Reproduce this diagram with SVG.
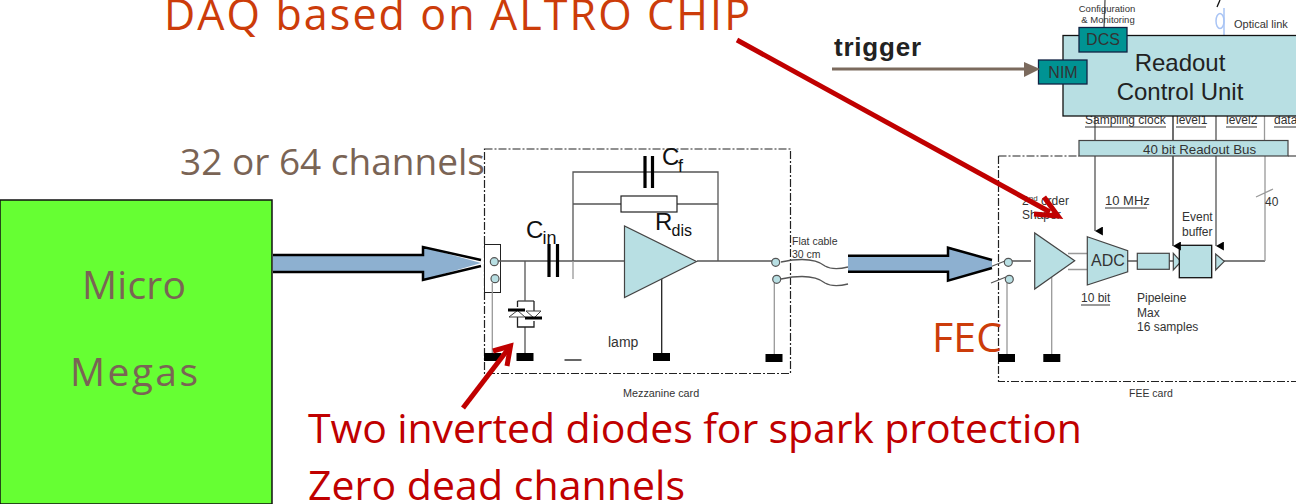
<svg xmlns="http://www.w3.org/2000/svg" width="1296" height="504" viewBox="0 0 1296 504">
<style>
text{font-family:"Liberation Sans",Arial,sans-serif;fill:#333}
.big{font-family:"Open Sans","Noto Sans",sans-serif}
.or{fill:#cc3c0a;font-size:43px}
.br{fill:#7a6455}
.rd{fill:#c00000;font-size:41px}
.s{font-size:12px}
.el{font-size:24px;fill:#111}
.sub{font-size:18px;fill:#111}
.w{fill:none;stroke:#555;stroke-width:1.3}
.k{fill:none;stroke:#222;stroke-width:1.3}
.g{fill:none;stroke:#999;stroke-width:1.3}
.gnd{fill:#000}
.t{fill:#b8dfe3;stroke:#444;stroke-width:1.2}
.t2{fill:#b8dfe3;stroke:#111;stroke-width:1.3}
.teal{fill:#009393;stroke:#124;stroke-width:1.3}
.c{fill:#b8dfe3;stroke:#555;stroke-width:1.2}
.d{fill:none;stroke:#222;stroke-width:1.2;stroke-dasharray:8 2 2 2}
.u{stroke:#333;stroke-width:1;fill:none}
.ar{fill:#8db0d0}
.ae{fill:none;stroke:#000;stroke-width:2.5}
.cap{fill:none;stroke:#000;stroke-width:3.2}
.red{stroke:#c00000;stroke-width:5;fill:none}
</style>
<defs>
<marker id="dn" markerWidth="9" markerHeight="8" refX="4" refY="7" orient="auto-start-reverse" markerUnits="userSpaceOnUse" viewBox="0 0 8 7"><path d="M0 0H8L4 7Z" fill="#000"/></marker>
</defs>
<g id="micromegas">
<rect x="0" y="200" width="272" height="304" fill="#66ff33" stroke="#111" stroke-width="1.5"/>
<text class="big br" x="82" y="299" font-size="39" textLength="104">Micro</text>
<text class="big br" x="70" y="386" font-size="39" textLength="128">Megas</text>
</g>
<g id="mezzanine">
<rect class="d" x="484.500" y="149" width="306" height="224.500"/>
<rect x="484.500" y="244.500" width="16" height="48" fill="#fff" stroke="#222" stroke-width="1"/>
<path class="w" d="M498 261H624M573 261V172H718V261M573 204H621M677 204H718M697 261H772M525 261V301M517.500 301H534M525 327V353"/>
<path class="g" d="M492.300 283V353M774.300 283V354M573 261V279"/>
<path class="k" d="M661.700 276V353M517.500 301V307M534 301V314M517.500 317V327H534V321"/>
<path d="M509 317L517.500 310.500L525 317ZM526 311L534 318L541 311Z" fill="#fff" stroke="#444"/>
<path d="M508 310H525M525 318H542" stroke="#000" stroke-width="3"/>
<path class="cap" d="M549 244V277M557.500 244V277M645 156V188M652.500 156V188"/>
<rect x="621" y="196" width="56" height="16" fill="#fff" stroke="#222" stroke-width="1.200"/>
<path class="t" d="M624.500 226V297.500L696.500 261.500Z"/>
<circle class="c" cx="494.300" cy="261.700" r="4"/><circle class="c" cx="495" cy="278.700" r="4"/>
<circle class="c" cx="775.700" cy="262.300" r="4"/><circle class="c" cx="776.700" cy="279.300" r="4"/>
<rect class="gnd" x="484" y="353" width="17.500" height="8"/><rect class="gnd" x="516.500" y="353" width="17" height="8"/>
<rect class="gnd" x="653" y="353" width="17" height="8"/><rect class="gnd" x="765.500" y="354" width="17" height="8"/>
<path d="M564.500 360H581.500" stroke="#000" stroke-width="1.200"/>
<text class="el" x="526" y="238">C</text><text class="sub" x="542.500" y="244">in</text>
<text class="el" x="662" y="165">C</text><text class="sub" x="678" y="172">f</text>
<text class="el" x="655" y="230">R</text><text x="671.500" y="236" font-size="16" style="fill:#111">dis</text>
<text x="608" y="347" font-size="14">lamp</text>
<text x="623" y="397" font-size="10.800">Mezzanine card</text>
</g>
<g id="cable">
<path class="w" d="M781 262C800 258 815 258 825 266C832 270 840 269 848 267M781 279C800 275 815 275 825 283C832 287 840 286 848 284"/>
<text x="792" y="245" font-size="10.500">Flat cable</text><text x="792" y="258" font-size="10.500">30 cm</text>
</g>
<g id="fee">
<path class="d" d="M998.500 156V381.500H1296M998.500 156H1079M1288 156H1296"/>
<path class="w" d="M990 267L1005 261M991 283L1006 277M1012 261H1031M1127 261H1137M1169 261H1173M1224 261H1265"/>
<path class="g" d="M1007 283V354M1068 253.500H1087M1068 269.500H1087M1051.700 276V354M1265 261V156M1256 197L1273 189"/>
<path class="t" d="M1034.700 233V289L1074.700 260.700Z"/>
<path class="t" d="M1087.300 236.700L1127.700 250.700V271.700L1087.300 285Z"/>
<rect class="t" x="1137.300" y="253.300" width="32" height="16"/>
<path class="t" d="M1173.300 253.300V270L1181 261.700Z"/>
<rect class="t2" x="1179.300" y="245.300" width="32.400" height="32.400"/>
<path class="t" d="M1215.700 254V270L1224.300 261.300Z"/>
<circle class="c" cx="1008.300" cy="262.300" r="4"/><circle class="c" cx="1009.300" cy="279.300" r="4"/>
<rect class="gnd" x="998" y="354" width="17" height="8"/><rect class="gnd" x="1043.300" y="354" width="17" height="8"/>
<text class="s" x="1022" y="205">2<tspan font-size="8" dy="-4">nd</tspan><tspan dy="4"> order</tspan></text><text class="s" x="1022" y="219">Shaper</text>
<text x="1105" y="205" font-size="13">10 MHz</text><path class="u" d="M1105 208H1147"/>
<text class="s" x="1182" y="221">Event</text><text class="s" x="1182" y="236">buffer</text>
<text x="1091" y="266" font-size="16">ADC</text>
<text class="s" x="1081" y="302">10 bit</text><path class="u" d="M1081 305H1110"/>
<text class="s" x="1137" y="302">Pipeleine</text><text class="s" x="1137" y="317">Max</text><text class="s" x="1137" y="331">16 samples</text>
<text class="s" x="1265" y="206">40</text>
<text x="1129" y="397" font-size="10.500">FEE card</text>
</g>
<g id="bus-lines">
<path class="w" d="M1095 116V140M1095 156V231" marker-end="url(#dn)"/>
<path class="k" d="M1173 116V140M1173 156V246" marker-end="url(#dn)"/>
<path class="w" d="M1216 116V140M1216 156V246" marker-end="url(#dn)"/>
<path class="g" d="M1264.500 116V140"/>
</g>
<g id="readout-bus">
<rect class="t" x="1079" y="140.500" width="209" height="15.500"/>
<text x="1143" y="153.500" font-size="13.300">40 bit Readout Bus</text>
<text class="s" x="1085" y="124">Sampling clock</text><path class="u" d="M1085 127H1166"/>
<text class="s" x="1176" y="124">level1</text><path class="u" d="M1176 127H1206"/>
<text class="s" x="1226" y="124">level2</text><path class="u" d="M1226 127H1257"/>
<text class="s" x="1274" y="124">data</text><path class="u" d="M1274 127H1296"/>
</g>
<g id="rcu">
<path class="w" d="M1105 0L1104 28"/>
<path d="M1220 0L1217 7" stroke="#111" stroke-width="1.300"/>
<ellipse cx="1220" cy="21" rx="4" ry="7.500" fill="none" stroke="#a9c4f5" stroke-width="1.500"/>
<path d="M1224 8V43" stroke="#a9c4f5" stroke-width="1.500"/>
<rect class="t2" x="1063" y="35.500" width="234" height="80.500"/>
<text x="1180" y="71" font-size="24" text-anchor="middle" style="fill:#222">Readout</text>
<text x="1180" y="100" font-size="24" text-anchor="middle" style="fill:#222">Control Unit</text>
<text x="1107" y="12" text-anchor="middle" font-size="9.500">Configuration</text>
<text x="1108" y="23" text-anchor="middle" font-size="9.500">&amp; Monitoring</text>
<text x="1234" y="28" font-size="11">Optical link</text>
</g>
<g id="dcs"><rect class="teal" x="1079" y="27.500" width="48" height="24.500"/><text x="1103" y="45" font-size="16" text-anchor="middle">DCS</text></g>
<g id="nim"><rect class="teal" x="1038.500" y="60" width="48.500" height="24"/><text x="1063" y="78" font-size="16" text-anchor="middle">NIM</text></g>
<g id="connectors">
<path class="ar" d="M273 255H423V247L481 263L423 280V272H273Z"/>
<path class="ae" d="M273 255H423V247L481 260M481 266L423 280V272H273"/>
<path class="ar" d="M848 255.700H948V247.700L992 260V268L948 280.700V271.700H848Z"/>
<path class="ae" d="M848 255.700H948V247.700L992 260M992 268L948 280.700V271.700H848"/>
<path d="M832 69H1026" stroke="#7b6a5d" stroke-width="3" fill="none"/>
<path d="M1024 62L1040 69L1024 77Z" fill="#7b6a5d"/>
<path class="red" d="M737 40L1050 212"/>
<path class="red" d="M1034 214L1058 216L1044 197"/>
<path class="red" d="M463 408L509 348"/>
<path class="red" d="M493 351L510.500 346L507 366"/>
</g>
<g id="labels">
<text class="big or" x="164" y="30" textLength="586">DAQ based on ALTRO CHIP</text>
<text class="big br" x="180" y="175" font-size="37" textLength="305">32 or 64 channels</text>
<text x="834" y="56" font-size="26" font-weight="bold" textLength="87" style="fill:#222">trigger</text>
<text class="big" x="932" y="352" font-size="41" textLength="70" style="fill:#cc3c0a">FEC</text>
<text class="big rd" x="308" y="443" textLength="774">Two inverted diodes for spark protection</text>
<text class="big rd" x="308" y="500" textLength="377">Zero dead channels</text>
</g>
</svg>
